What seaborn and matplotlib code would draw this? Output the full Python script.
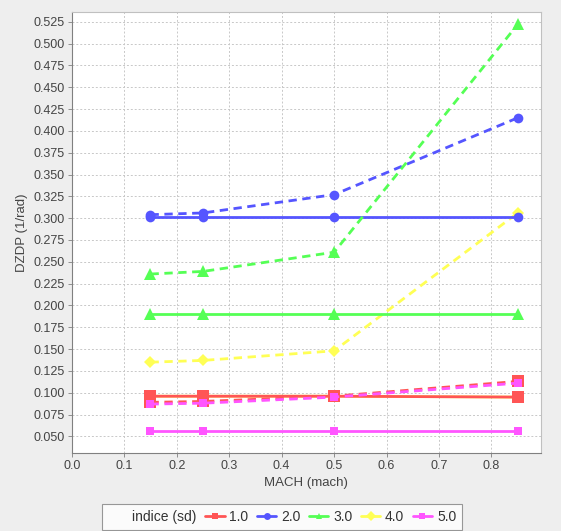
import matplotlib
matplotlib.use("Agg")
from matplotlib import pyplot as plt
from matplotlib.lines import Line2D
import numpy as np
import pandas as pd
import seaborn as sns

mach = [0.15, 0.25, 0.5, 0.85]
indices = ["1.0", "2.0", "3.0", "4.0", "5.0"]

# solid curves
solid_1 = [0.096, 0.096, 0.096, 0.095]
solid_2 = [0.301, 0.301, 0.301, 0.301]
solid_3 = [0.190, 0.190, 0.190, 0.190]
solid_4 = [0.096, 0.096, 0.096, 0.095]
solid_5 = [0.056, 0.056, 0.056, 0.056]

# dashed curves
dashed_1 = [0.089, 0.090, 0.096, 0.113]
dashed_2 = [0.304, 0.306, 0.327, 0.415]
dashed_3 = [0.236, 0.239, 0.261, 0.522]
dashed_4 = [0.135, 0.137, 0.148, 0.306]
dashed_5 = [0.087, 0.088, 0.095, 0.111]

solids = [solid_1, solid_2, solid_3, solid_4, solid_5]
dashes = [dashed_1, dashed_2, dashed_3, dashed_4, dashed_5]

colors = ["#FF5555", "#5555FF", "#55FF55", "#FFFF55", "#FF55FF"]
markers = ["s", "o", "^", "D", "s"]
msizes = [8, 7, 8, 6, 6]

sns.set_style("white")
plt.rcParams['font.family'] = ['Liberation Sans', 'DejaVu Sans']

fig = plt.figure(figsize=(5.61, 5.31), dpi=100, facecolor="#EEEEEE")
ax = fig.add_axes([0.128, 0.147, 0.836, 0.830])
ax.set_facecolor("white")

# draw order: yellow solid first so red sits on top
order = [3, 0, 1, 2, 4]
for i in order:
    df_s = pd.DataFrame({"MACH": mach, "val": solids[i]})
    sns.lineplot(data=df_s, x="MACH", y="val", ax=ax, color=colors[i],
                 linewidth=2, marker=markers[i], markersize=msizes[i],
                 markeredgewidth=0, linestyle="-", zorder=3)
    df_d = pd.DataFrame({"MACH": mach, "val": dashes[i]})
    sns.lineplot(data=df_d, x="MACH", y="val", ax=ax, color=colors[i],
                 linewidth=2, marker=markers[i], markersize=msizes[i],
                 markeredgewidth=0, linestyle=(0, (3, 2)), zorder=3)

ax.set_xlim(0.0, 0.894)
ax.set_ylim(0.031, 0.536)
xt = np.arange(0.0, 0.85, 0.1)
ax.set_xticks(xt)
ax.set_xticklabels([f"{v:.1f}" for v in xt])
yt = np.arange(0.050, 0.5251, 0.025)
ax.set_yticks(yt)
ax.set_yticklabels([f"{v:.3f}" for v in yt])

ax.grid(True, color="#C8C8C8", linestyle=(0, (2, 2)), linewidth=0.7)
ax.set_axisbelow(True)
for s in ["top", "right"]:
    ax.spines[s].set_color("#C0C0C0")
    ax.spines[s].set_linewidth(0.8)
for s in ["left", "bottom"]:
    ax.spines[s].set_color("#808080")
    ax.spines[s].set_linewidth(0.8)

ax.tick_params(axis="both", direction="out", length=3, width=0.6,
               color="#808080", labelsize=9, labelcolor="#444444", pad=2,
               left=True, bottom=True)
ax.set_xlabel("MACH (mach)", fontsize=9.5, color="#444444", labelpad=4)
ax.set_ylabel("DZDP (1/rad)", fontsize=9.5, color="#444444", labelpad=4)

handles = [Line2D([], [], linestyle="none", marker=None)]
labels = ["indice (sd)"]
for i in range(5):
    handles.append(Line2D([], [], color=colors[i], linewidth=2, marker=markers[i],
                          markersize=5, markeredgewidth=0))
    labels.append(indices[i])

leg = fig.legend(handles, labels, loc="lower center", bbox_to_anchor=(0.503, -0.012),
                 ncol=6, frameon=True, fancybox=False, fontsize=10,
                 handlelength=1.4, handletextpad=0.35, columnspacing=0.6,
                 borderpad=0.45)
leg.get_frame().set_edgecolor("#808080")
leg.get_frame().set_linewidth(0.8)
for t in leg.get_texts():
    t.set_color("#333333")

fig.savefig("out.png", dpi=100, facecolor=fig.get_facecolor())
